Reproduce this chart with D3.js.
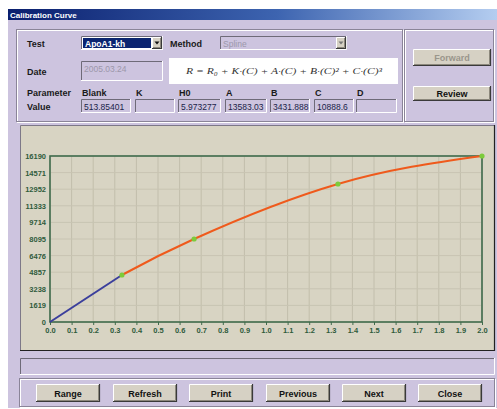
<!DOCTYPE html>
<html>
<head>
<meta charset="utf-8">
<script src="https://cdn.jsdelivr.net/npm/d3@7"></script>
<style>
body { margin: 0; background: #fff; }
svg { display: block; font-family: "Liberation Sans", Arial, sans-serif; }
</style>
</head>
<body>
<div id="chart"></div>
<script>

// calibration standards
const stdConc = [0, 0.333, 0.667, 1.333, 2.0];
const stdResp = [0, 4584, 8095, 13459, 16190];

const xTickVals = [0.0, 0.1, 0.2, 0.3, 0.4, 0.5, 0.6, 0.7, 0.8, 0.9, 1.0, 1.1, 1.2, 1.3, 1.4, 1.5, 1.6, 1.7, 1.8, 1.9, 2.0];
const yTickVals = [0, 1619, 3238, 4857, 6476, 8095, 9714, 11333, 12952, 14571, 16190];

const paramNames = ["Blank", "K", "H0", "A", "B", "C", "D"];
const paramValues = ["513.85401", "", "5.973277", "13583.03", "3431.888", "10888.6", ""];
const buttonNames = ["Range", "Refresh", "Print", "Previous", "Next", "Close"];

const W = 497, H = 409;
const lav = "#cdc4df", beige = "#d8d4c3";

const svg = d3.select("#chart").append("svg")
    .attr("width", W)
    .attr("height", H);

const defs = svg.append("defs");
const grad = defs.append("linearGradient").attr("id", "tbar");
grad.append("stop").attr("offset", "0%").attr("stop-color", "#0a1f6e");
grad.append("stop").attr("offset", "55%").attr("stop-color", "#3d64b0");
grad.append("stop").attr("offset", "100%").attr("stop-color", "#b4cdf0");

// dialog body + title bar
svg.append("rect").attr("x", 8).attr("y", 9).attr("width", W - 8).attr("height", 399).attr("fill", lav);
svg.append("rect").attr("x", 8).attr("y", 9).attr("width", W - 8).attr("height", 11).attr("fill", "url(#tbar)");
svg.append("text").attr("x", 10).attr("y", 18)
    .attr("fill", "#fff").style("font-size", "8px").style("font-weight", "bold")
    .text("Calibration Curve");

function etched(x, y, w, h) {
    svg.append("rect").attr("x", x + 0.5).attr("y", y + 0.5).attr("width", w).attr("height", h)
        .attr("fill", "none").attr("stroke", "#fff");
    svg.append("rect").attr("x", x - 0.5).attr("y", y - 0.5).attr("width", w).attr("height", h)
        .attr("fill", "none").attr("stroke", "#8a8498");
}

function sunken(x, y, w, h, fill) {
    svg.append("rect").attr("x", x).attr("y", y).attr("width", w).attr("height", h).attr("fill", fill || lav);
    svg.append("path").attr("d", `M${x + 0.5},${y + h}V${y + 0.5}H${x + w}`)
        .attr("fill", "none").attr("stroke", "#6e6a78");
    svg.append("path").attr("d", `M${x},${y + h - 0.5}H${x + w - 0.5}V${y}`)
        .attr("fill", "none").attr("stroke", "#fff");
}

function button(x, y, w, h, label, disabled) {
    svg.append("rect").attr("x", x).attr("y", y).attr("width", w).attr("height", h).attr("fill", "#d6d1c4");
    svg.append("path").attr("d", `M${x + 0.5},${y + h}V${y + 0.5}H${x + w}`)
        .attr("fill", "none").attr("stroke", "#fff");
    svg.append("path").attr("d", `M${x},${y + h - 0.5}H${x + w - 0.5}V${y}`)
        .attr("fill", "none").attr("stroke", "#3a3a3a").attr("stroke-width", 1.2);
    svg.append("path").attr("d", `M${x + 1},${y + h - 1.5}H${x + w - 1.5}V${y + 1}`)
        .attr("fill", "none").attr("stroke", "#8c887c");
    svg.append("text").attr("x", x + w / 2).attr("y", y + h / 2 + 3.5)
        .attr("text-anchor", "middle")
        .attr("fill", disabled ? "#9a968c" : "#111")
        .style("font-size", "9px").style("font-weight", "bold")
        .text(label);
}

function label(x, y, t, opts) {
    opts = opts || {};
    return svg.append("text").attr("x", x).attr("y", y)
        .attr("fill", opts.fill || "#1a1a1a")
        .attr("text-anchor", opts.anchor || "start")
        .style("font-size", (opts.size || 9) + "px")
        .style("font-weight", opts.weight || "bold")
        .text(t);
}

// ---- top group
etched(17, 30, 386, 92);
etched(405, 30, 89, 92);

label(27, 47, "Test");
label(170, 47, "Method");
label(27, 75, "Date");
label(27, 96, "Parameter");
label(27, 110, "Value");

// Test combo (selected)
sunken(81, 36, 82, 14, "#fff");
svg.append("rect").attr("x", 83).attr("y", 38).attr("width", 68).attr("height", 10).attr("fill", "#0b2470");
label(85, 46.5, "ApoA1-kh", {fill: "#fff", size: 8.5});
button(152, 37, 10, 12, "");
svg.append("path").attr("d", "M154.5,41.5h5l-2.5,3z").attr("fill", "#111");

// Method combo (disabled)
sunken(220, 36, 127, 14, lav);
label(223, 47, "Spline", {fill: "#9c97aa", size: 8.5, weight: "normal"});
button(336, 37, 10, 12, "");
svg.append("path").attr("d", "M338.5,41.5h5l-2.5,3z").attr("fill", "#777");

// Date box
sunken(81, 61, 82, 20, lav);
label(84, 72, "2005.03.24", {fill: "#9c97aa", size: 8.5, weight: "normal"});

// Formula box
svg.append("rect").attr("x", 169).attr("y", 58).attr("width", 229).attr("height", 26).attr("fill", "#fff");
svg.append("text").attr("x", 186).attr("y", 74)
    .attr("fill", "#333")
    .attr("textLength", 196).attr("lengthAdjust", "spacingAndGlyphs")
    .style("font-family", "'Liberation Serif', serif")
    .style("font-style", "italic").style("font-size", "9px")
    .text("R = R₀ + K·(C) + A·(C) + B·(C)² + C·(C)³");

// parameter boxes
const boxX = [81, 135, 178, 225, 270, 314, 356];
const boxW = [50, 40, 43, 42, 40, 40, 41];
paramNames.forEach((n, i) => {
    label(boxX[i] + 1, 96, n);
    sunken(boxX[i], 99, boxW[i], 14, lav);
    label(boxX[i] + 3, 109.5, paramValues[i], {fill: "#1b1f4a", size: 8.5, weight: "normal"});
});

button(413, 49, 78, 17, "Forward", true);
button(413, 86, 78, 15, "Review");

// ---- plot panel
svg.append("rect").attr("x", 20).attr("y", 125).attr("width", 475).attr("height", 226).attr("fill", beige);
svg.append("path").attr("d", "M20.5,351V125.5H495").attr("fill", "none").attr("stroke", "#7d7888");
svg.append("path").attr("d", "M20,350.5H494.5V125").attr("fill", "none").attr("stroke", "#222").attr("stroke-width", 1.2);

const margin = {top: 156, bottom: 322, left: 50, right: 482};

const x_scale = d3.scaleLinear()
    .domain([0, 2.0])
    .range([margin.left, margin.right]);

const y_scale = d3.scaleLinear()
    .domain([0, 16190])
    .range([margin.bottom, margin.top]);

// grid
svg.append("g")
    .selectAll("line")
    .data(xTickVals)
    .enter()
    .append("line")
    .attr("x1", d => x_scale(d)).attr("x2", d => x_scale(d))
    .attr("y1", margin.top).attr("y2", margin.bottom)
    .attr("stroke", "#c2beac").attr("stroke-width", 1);

svg.append("g")
    .selectAll("line")
    .data(yTickVals)
    .enter()
    .append("line")
    .attr("x1", margin.left).attr("x2", margin.right)
    .attr("y1", d => y_scale(d)).attr("y2", d => y_scale(d))
    .attr("stroke", "#c8c4b2").attr("stroke-width", 1);

// axes
const x_axis = d3.axisBottom(x_scale)
    .tickValues(xTickVals)
    .tickSize(3)
    .tickFormat(d3.format(".1f"));

const y_axis = d3.axisLeft(y_scale)
    .tickValues(yTickVals)
    .tickSize(0)
    .tickPadding(4)
    .tickFormat(d => d);

const gx = svg.append("g")
    .attr("transform", `translate(0,${margin.bottom})`)
    .call(x_axis);
gx.select(".domain").remove();
gx.selectAll("line").attr("stroke", "#3f6b4c");
gx.selectAll("text").attr("fill", "#2f5b3c").style("font-size", "7.5px").style("font-weight", "bold")
    .attr("dy", "0.6em");

const gy = svg.append("g")
    .attr("transform", `translate(${margin.left},0)`)
    .call(y_axis);
gy.select(".domain").remove();
gy.selectAll("text").attr("fill", "#2f5b3c").style("font-size", "7.5px").style("font-weight", "bold");

// frame
svg.append("rect")
    .attr("x", margin.left).attr("y", margin.top)
    .attr("width", margin.right - margin.left).attr("height", margin.bottom - margin.top)
    .attr("fill", "none").attr("stroke", "#3f6b4c").attr("stroke-width", 1.6);

const pts = stdConc.map((c, i) => [c, stdResp[i]]);

const lineFunction = d3.line()
    .x(d => x_scale(d[0]))
    .y(d => y_scale(d[1]));

// linear part below first standard
svg.append("path")
    .attr("d", lineFunction.curve(d3.curveLinear)(pts.slice(0, 2)))
    .attr("fill", "none").attr("stroke", "#3b3f9c").attr("stroke-width", 2);

// spline part
svg.append("path")
    .attr("d", lineFunction.curve(d3.curveNatural)(pts.slice(1)))
    .attr("fill", "none").attr("stroke", "#ef5a1c").attr("stroke-width", 2);

svg.append("g")
    .selectAll("circle")
    .data(pts.slice(1))
    .enter()
    .append("circle")
    .attr("cx", d => x_scale(d[0]))
    .attr("cy", d => y_scale(d[1]))
    .attr("r", 2.6)
    .attr("fill", "#7ccb3a");

// ---- status bar + buttons
sunken(20, 358, 475, 17, lav);
etched(20, 379, 475, 28);

const btnX = [36, 113, 189, 266, 342, 418];
buttonNames.forEach((b, i) => button(btnX[i], 384, 64, 18, b));

</script>
</body>
</html>
